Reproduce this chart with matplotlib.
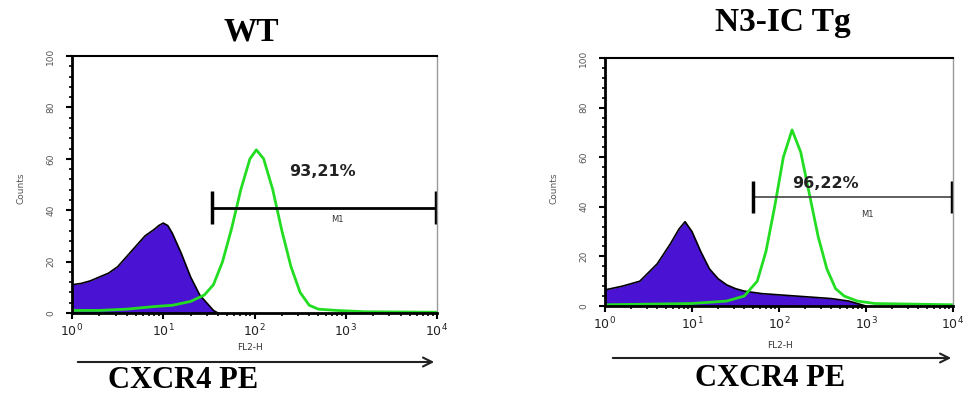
import numpy as np
import matplotlib
matplotlib.use("Agg")
import matplotlib.pyplot as plt
from matplotlib.ticker import LogLocator, NullFormatter, MultipleLocator

# ── data: (log10 FL2-H, counts) ──
wt_iso_log = [0.0, 0.1, 0.2, 0.3, 0.4, 0.5, 0.6, 0.7, 0.8, 0.9, 0.95, 1.0, 1.05, 1.1, 1.2, 1.3, 1.4, 1.5, 1.55, 1.6]
wt_iso_cnt = [11, 11.5, 12.5, 14, 15.5, 18, 22, 26, 30, 32.5, 34, 35, 34, 31, 23, 14, 7, 3, 1, 0]
wt_cx_log = [0.0, 0.3, 0.6, 0.9, 1.1, 1.3, 1.45, 1.55, 1.65, 1.75, 1.85, 1.95, 2.02, 2.1, 2.2, 2.3, 2.4, 2.5, 2.6, 2.7, 2.9, 3.2, 3.6, 4.0]
wt_cx_cnt = [1, 1, 1.5, 2.5, 3, 4.5, 7, 11, 20, 33, 48, 60, 63.5, 60, 48, 32, 18, 8, 3, 1.5, 1, 0.5, 0.4, 0.3]

tg_iso_log = [0.0, 0.2, 0.4, 0.6, 0.75, 0.85, 0.92, 1.0, 1.1, 1.2, 1.3, 1.4, 1.5, 1.6, 1.8, 2.0, 2.2, 2.4, 2.6, 2.8, 2.9, 3.0]
tg_iso_cnt = [6.5, 8, 10, 17, 25, 31, 34, 30, 22, 15, 11, 8.5, 7, 6, 5, 4.5, 4, 3.5, 3, 2, 1, 0]
tg_cx_log = [0.0, 1.0, 1.4, 1.6, 1.75, 1.85, 1.95, 2.05, 2.15, 2.25, 2.35, 2.45, 2.55, 2.65, 2.75, 2.9, 3.1, 4.0]
tg_cx_cnt = [0.5, 1, 2, 4, 10, 22, 40, 60, 71, 62, 45, 28, 15, 7, 4, 2, 1, 0.5]

titles = ["WT", "N3-IC Tg"]
gate_pct = ["93,21%", "96,22%"]
gate_lo = [10 ** 1.53, 10 ** 1.70]   # M1 left edge
gate_hi = [10 ** 4, 10 ** 4]
gate_y = [41, 44]

PURPLE = "#4a12d2"
GREEN = "#22dd22"
W, H = 964, 396

fig = plt.figure(figsize=(W / 100, H / 100), dpi=100)


def px_axes(x0, y_top, x1, y_bot):
    return fig.add_axes([x0 / W, (H - y_bot) / H, (x1 - x0) / W, (y_bot - y_top) / H])


panels = [
    dict(ax=px_axes(72, 56, 437, 313), iso=(wt_iso_log, wt_iso_cnt), cx=(wt_cx_log, wt_cx_cnt),
         title_xy=(251, 32), arrow=(75, 437, 362), fl2=(250, 348), cx_lbl=(183, 380), counts=(21, 188),
         pct_xy=(322, 172), m1_xy=(337, 220)),
    dict(ax=px_axes(605, 58, 953, 306), iso=(tg_iso_log, tg_iso_cnt), cx=(tg_cx_log, tg_cx_cnt),
         title_xy=(783, 22), arrow=(610, 954, 358), fl2=(780, 345), cx_lbl=(770, 378), counts=(554, 188),
         pct_xy=(825, 183), m1_xy=(867, 214)),
]

for i, p in enumerate(panels):
    ax = p["ax"]
    xi = 10 ** np.array(p["iso"][0]); yi = np.array(p["iso"][1])
    xc = 10 ** np.array(p["cx"][0]); yc = np.array(p["cx"][1])
    ax.fill_between(xi, yi, 0, color=PURPLE, lw=0)
    ax.plot(xi, yi, color="black", lw=1.2)
    ax.plot(xc, yc, color=GREEN, lw=2)

    # M1 gate
    ax.plot([gate_lo[i], gate_hi[i]], [gate_y[i]] * 2, color="black" if i == 0 else "#444444",
            lw=2 if i == 0 else 1.2)
    ax.vlines([gate_lo[i], gate_hi[i] * 0.985], gate_y[i] - 6.5, gate_y[i] + 6.5, color="black", lw=2.5)
    fig.text(p["pct_xy"][0] / W, 1 - p["pct_xy"][1] / H, gate_pct[i], ha="center", va="center",
             fontsize=11.5, fontweight="bold", color="#222222")
    fig.text(p["m1_xy"][0] / W, 1 - p["m1_xy"][1] / H, "M1", ha="center", va="center", fontsize=6, color="#333333")

    ax.set_xscale("log")
    ax.set_xlim(1, 1e4)
    ax.set_ylim(0, 100)
    ax.xaxis.set_minor_locator(LogLocator(base=10, subs=np.arange(2, 10), numticks=10))
    ax.xaxis.set_minor_formatter(NullFormatter())
    ax.yaxis.set_minor_locator(MultipleLocator(4))
    ax.set_xticks([1, 10, 100, 1000, 10000])
    ax.set_xticklabels([r"$10^{0}$", r"$10^{1}$", r"$10^{2}$", r"$10^{3}$", r"$10^{4}$"], fontsize=9, color="#222222")
    ax.set_yticks([0, 20, 40, 60, 80, 100])
    ax.set_yticklabels(["0", "20", "40", "60", "80", "100"], rotation=90, va="center", fontsize=6.5, color="#555555")
    ax.tick_params(axis="x", which="major", direction="out", length=4, width=1.5, pad=3)
    ax.tick_params(axis="y", which="major", direction="out", length=4, width=1.5, pad=8)
    ax.tick_params(which="minor", direction="out", length=2.5, width=1.2)
    for s in ("left", "bottom"):
        ax.spines[s].set_linewidth(2)
    ax.spines["top"].set_linewidth(1.5)
    ax.spines["right"].set_linewidth(1)
    ax.spines["right"].set_color("#999999")

    fig.text(p["title_xy"][0] / W, 1 - p["title_xy"][1] / H, titles[i], ha="center", va="center",
             fontsize=24, fontweight="bold", family="Liberation Serif")
    fig.text(p["fl2"][0] / W, 1 - p["fl2"][1] / H, "FL2-H", ha="center", va="center", fontsize=6.5, color="#333333")
    fig.text(p["cx_lbl"][0] / W, 1 - p["cx_lbl"][1] / H, "CXCR4 PE", ha="center", va="center",
             fontsize=22, fontweight="bold", family="Liberation Serif")
    fig.text(p["counts"][0] / W, 1 - p["counts"][1] / H, "Counts", ha="center", va="center",
             rotation=90, fontsize=6.5, color="#555555")
    a0, a1, ay = p["arrow"]
    fig.add_artist(matplotlib.patches.FancyArrowPatch((a0 / W, 1 - ay / H), (a1 / W, 1 - ay / H),
                                                      transform=fig.transFigure, arrowstyle="->",
                                                      mutation_scale=16, lw=1.5, color="#222222"))

fig.savefig("out.png", dpi=100)
